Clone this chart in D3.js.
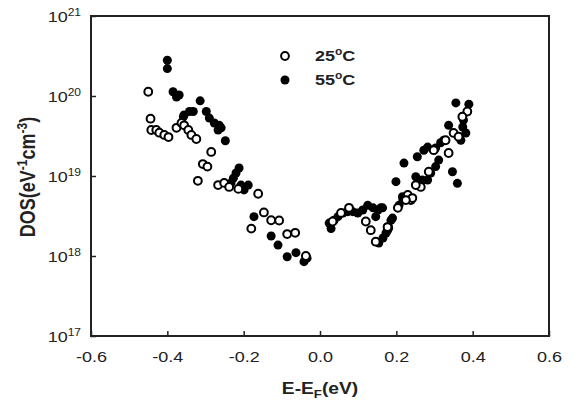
<!DOCTYPE html>
<html>
<head>
<meta charset="utf-8">
<script src="https://cdn.jsdelivr.net/npm/d3@7"></script>
<style>
  body { margin: 0; background: #fff; }
  text { font-family: "Liberation Sans", Arial, sans-serif; fill: #222; }
</style>
</head>
<body>
<div id="chart"></div>
<script>
// data: energy (eV) and DOS (eV^-1 cm^-3)
var e25 = [-0.450, -0.444, -0.442, -0.429, -0.421, -0.408, -0.397, -0.376, -0.363, -0.356,
           -0.345, -0.337, -0.324, -0.285, -0.307, -0.295, -0.320, -0.267, -0.251, -0.238,
           -0.214, -0.162, -0.147, -0.128, -0.107, -0.180, -0.086, -0.065, -0.037,
           0.033, 0.055, 0.076, 0.120, 0.133, 0.146, 0.178, 0.204, 0.238, 0.230,
           0.256, 0.264, 0.386, 0.373, 0.350, 0.363, 0.329, 0.298, 0.337, 0.285,
           0.251, 0.242, 0.225, 0.177];
var dos25 = [1.13e20, 5.2e19, 3.76e19, 3.76e19, 3.48e19, 3.26e19, 3.07e19, 4.0e19, 4.6e19, 4.3e19,
             3.76e19, 3.26e19, 2.9e19, 2.0e19, 1.41e19, 1.31e19, 8.7e18, 7.7e18, 8.2e18, 7.3e18,
             6.9e18, 6.0e18, 3.5e18, 2.8e18, 2.78e18, 2.2e18, 1.88e18, 1.95e18, 1.0e18,
             2.7e18, 3.45e18, 4.0e18, 2.7e18, 2.1e18, 1.51e18, 2.3e18, 4.0e18, 5.0e18, 5.8e18,
             7.7e18, 7.3e18, 6.4e19, 5.5e19, 3.45e19, 3.1e19, 2.8e19, 2.1e19, 1.94e19, 1.13e19,
             7.7e18, 5.3e18, 5.0e18, 2.3e18];

var e55 = [-0.400, -0.400, -0.385, -0.369, -0.376, -0.314, -0.342, -0.332, -0.356, -0.358,
           -0.298, -0.290, -0.277, -0.264, -0.267, -0.259, -0.248, -0.212, -0.220, -0.227,
           -0.207, -0.188, -0.233, -0.199, -0.173, -0.128, -0.110, -0.086, -0.063, -0.042, -0.034,
           0.029, 0.024, 0.037, 0.047, 0.060, 0.073, 0.086, 0.099, 0.112, 0.125,
           0.139, 0.152, 0.159, 0.146, 0.186, 0.180, 0.173, 0.165, 0.154, 0.199,
           0.217, 0.207, 0.356, 0.390, 0.376, 0.374, 0.382, 0.369, 0.337, 0.324,
           0.316, 0.303, 0.282, 0.272, 0.255, 0.220, 0.311, 0.303, 0.290, 0.282,
           0.268, 0.251, 0.347, 0.360, 0.216, 0.164, 0.190, 0.177];
var dos55 = [2.8e20, 2.2e20, 1.13e20, 1.03e20, 9.7e19, 8.7e19, 6.4e19, 6.4e19, 5.8e19, 5.5e19,
             6.4e19, 5.3e19, 4.6e19, 4.3e19, 3.76e19, 4.0e19, 2.76e19, 1.26e19, 1.09e19, 9.4e18,
             7.7e18, 7.7e18, 8.2e18, 6.7e18, 3.1e18, 1.78e18, 1.37e18, 9.8e17, 1.1e18, 8.5e17, 9.4e17,
             2.2e18, 2.58e18, 2.8e18, 3.1e18, 3.45e18, 3.58e18, 3.58e18, 3.45e18, 3.76e18, 4.3e18,
             4.0e18, 3.76e18, 4.0e18, 3.1e18, 2.8e18, 2.24e18, 1.94e18, 1.68e18, 1.45e18, 8.5e18,
             5.0e18, 4.3e18, 8.2e19, 7.9e19, 5.0e19, 4.1e19, 3.45e19, 2.8e19, 4.3e19, 2.8e19,
             2.6e19, 2.24e19, 2.3e19, 2.1e19, 1.74e19, 1.45e19, 1.58e19, 1.31e19, 1.09e19, 8.9e18,
             8.9e18, 9.8e18, 1.13e19, 8.1e18, 5.5e18, 4.0e18, 2.98e18, 2.1e18];

var xTicks = [-0.6, -0.4, -0.2, 0.0, 0.2, 0.4, 0.6];
var yTicks = [1e17, 1e18, 1e19, 1e20, 1e21];
var seriesNames = ["25", "55"];

var margin = { top: 16, right: 24, bottom: 72, left: 91 };
var width = 573 - margin.left - margin.right;
var height = 408 - margin.top - margin.bottom;
var sx = 1.2; // the reference text is a little wide
var rOpen = 3.9, rFill = 4.5;

var svg = d3.select("#chart").append("svg")
    .attr("width", 573)
    .attr("height", 408);

var g = svg.append("g")
    .attr("transform", "translate(" + margin.left + "," + margin.top + ")");

var x = d3.scaleLinear().domain([-0.6, 0.6]).range([0, width]);
var y = d3.scaleLog().domain([1e17, 1e21]).range([height, 0]);

// x axis, ticks pointing in
var xAxis = g.append("g")
    .attr("transform", "translate(0," + height + ")")
    .call(d3.axisBottom(x).tickValues(xTicks).tickSize(-5).tickPadding(15)
        .tickFormat(function(d) { return d.toFixed(1); }));
xAxis.select(".domain").remove();
xAxis.selectAll("line").attr("stroke", "#222").attr("stroke-width", 1.5);
xAxis.selectAll("text")
    .attr("font-size", 15)
    .attr("fill", "#2a2a2a")
    .attr("transform", "scale(" + sx + ",1)");

// y axis with 10^n labels
var yAxis = g.append("g")
    .call(d3.axisLeft(y).tickValues(yTicks).tickSize(-5));
yAxis.select(".domain").remove();
yAxis.selectAll("line").attr("stroke", "#222").attr("stroke-width", 1.5);
yAxis.selectAll("text").each(function(d) {
    var t = d3.select(this).text(null)
        .attr("x", -10 / sx)
        .attr("dy", "0.36em")
        .attr("font-size", 15)
        .attr("fill", "#2a2a2a")
        .attr("text-anchor", "end")
        .attr("transform", "scale(" + sx + ",1)");
    t.append("tspan").text("10");
    t.append("tspan").attr("font-size", 10).attr("dy", -6)
        .text(Math.round(Math.log10(d)));
});

// frame
g.append("rect")
    .attr("width", width)
    .attr("height", height)
    .attr("fill", "none")
    .attr("stroke", "#222")
    .attr("stroke-width", 2);

// points, 55 first so the open ones sit on top
g.append("g").selectAll("circle")
    .data(d3.range(e55.length))
    .enter().append("circle")
    .attr("cx", function(i) { return x(e55[i]); })
    .attr("cy", function(i) { return y(dos55[i]); })
    .attr("r", rFill)
    .attr("fill", "#000");

g.append("g").selectAll("circle")
    .data(d3.range(e25.length))
    .enter().append("circle")
    .attr("cx", function(i) { return x(e25[i]); })
    .attr("cy", function(i) { return y(dos25[i]); })
    .attr("r", rOpen)
    .attr("fill", "#fff")
    .attr("stroke", "#000")
    .attr("stroke-width", 2);

// legend
var legend = g.append("g").attr("transform", "translate(194,40)");
seriesNames.forEach(function(name, i) {
    var row = legend.append("g").attr("transform", "translate(0," + (i * 24) + ")");
    row.append("circle")
        .attr("r", i === 0 ? rOpen : rFill)
        .attr("fill", i === 0 ? "#fff" : "#000")
        .attr("stroke", i === 0 ? "#000" : "none")
        .attr("stroke-width", 2);
    var t = row.append("text")
        .attr("x", 30 / sx)
        .attr("dy", "0.36em")
        .attr("font-size", 15)
        .attr("font-weight", "bold")
        .attr("transform", "scale(" + sx + ",1)");
    t.append("tspan").text(name);
    t.append("tspan").attr("font-size", 10).attr("dy", -6).text("o");
    t.append("tspan").attr("dy", 6).text("C");
});

// axis titles
var xt = svg.append("text")
    .attr("transform", "translate(320,394) scale(" + sx + ",1)")
    .attr("text-anchor", "middle")
    .attr("font-size", 16)
    .attr("font-weight", "bold")
    .attr("fill", "#111");
xt.append("tspan").text("E-E");
xt.append("tspan").attr("font-size", 11).attr("dy", 4).text("F");
xt.append("tspan").attr("dy", -4).text("(eV)");

var yt = svg.append("text")
    .attr("transform", "translate(35,177) scale(" + sx + ",1) rotate(-90)")
    .attr("text-anchor", "middle")
    .attr("font-size", 18)
    .attr("font-weight", "bold")
    .attr("fill", "#111");
yt.append("tspan").text("DOS(eV");
yt.append("tspan").attr("font-size", 12).attr("dy", -7).text("-1");
yt.append("tspan").attr("dy", 7).text("cm");
yt.append("tspan").attr("font-size", 12).attr("dy", -7).text("-3");
yt.append("tspan").attr("dy", 7).text(")");
</script>
</body>
</html>
